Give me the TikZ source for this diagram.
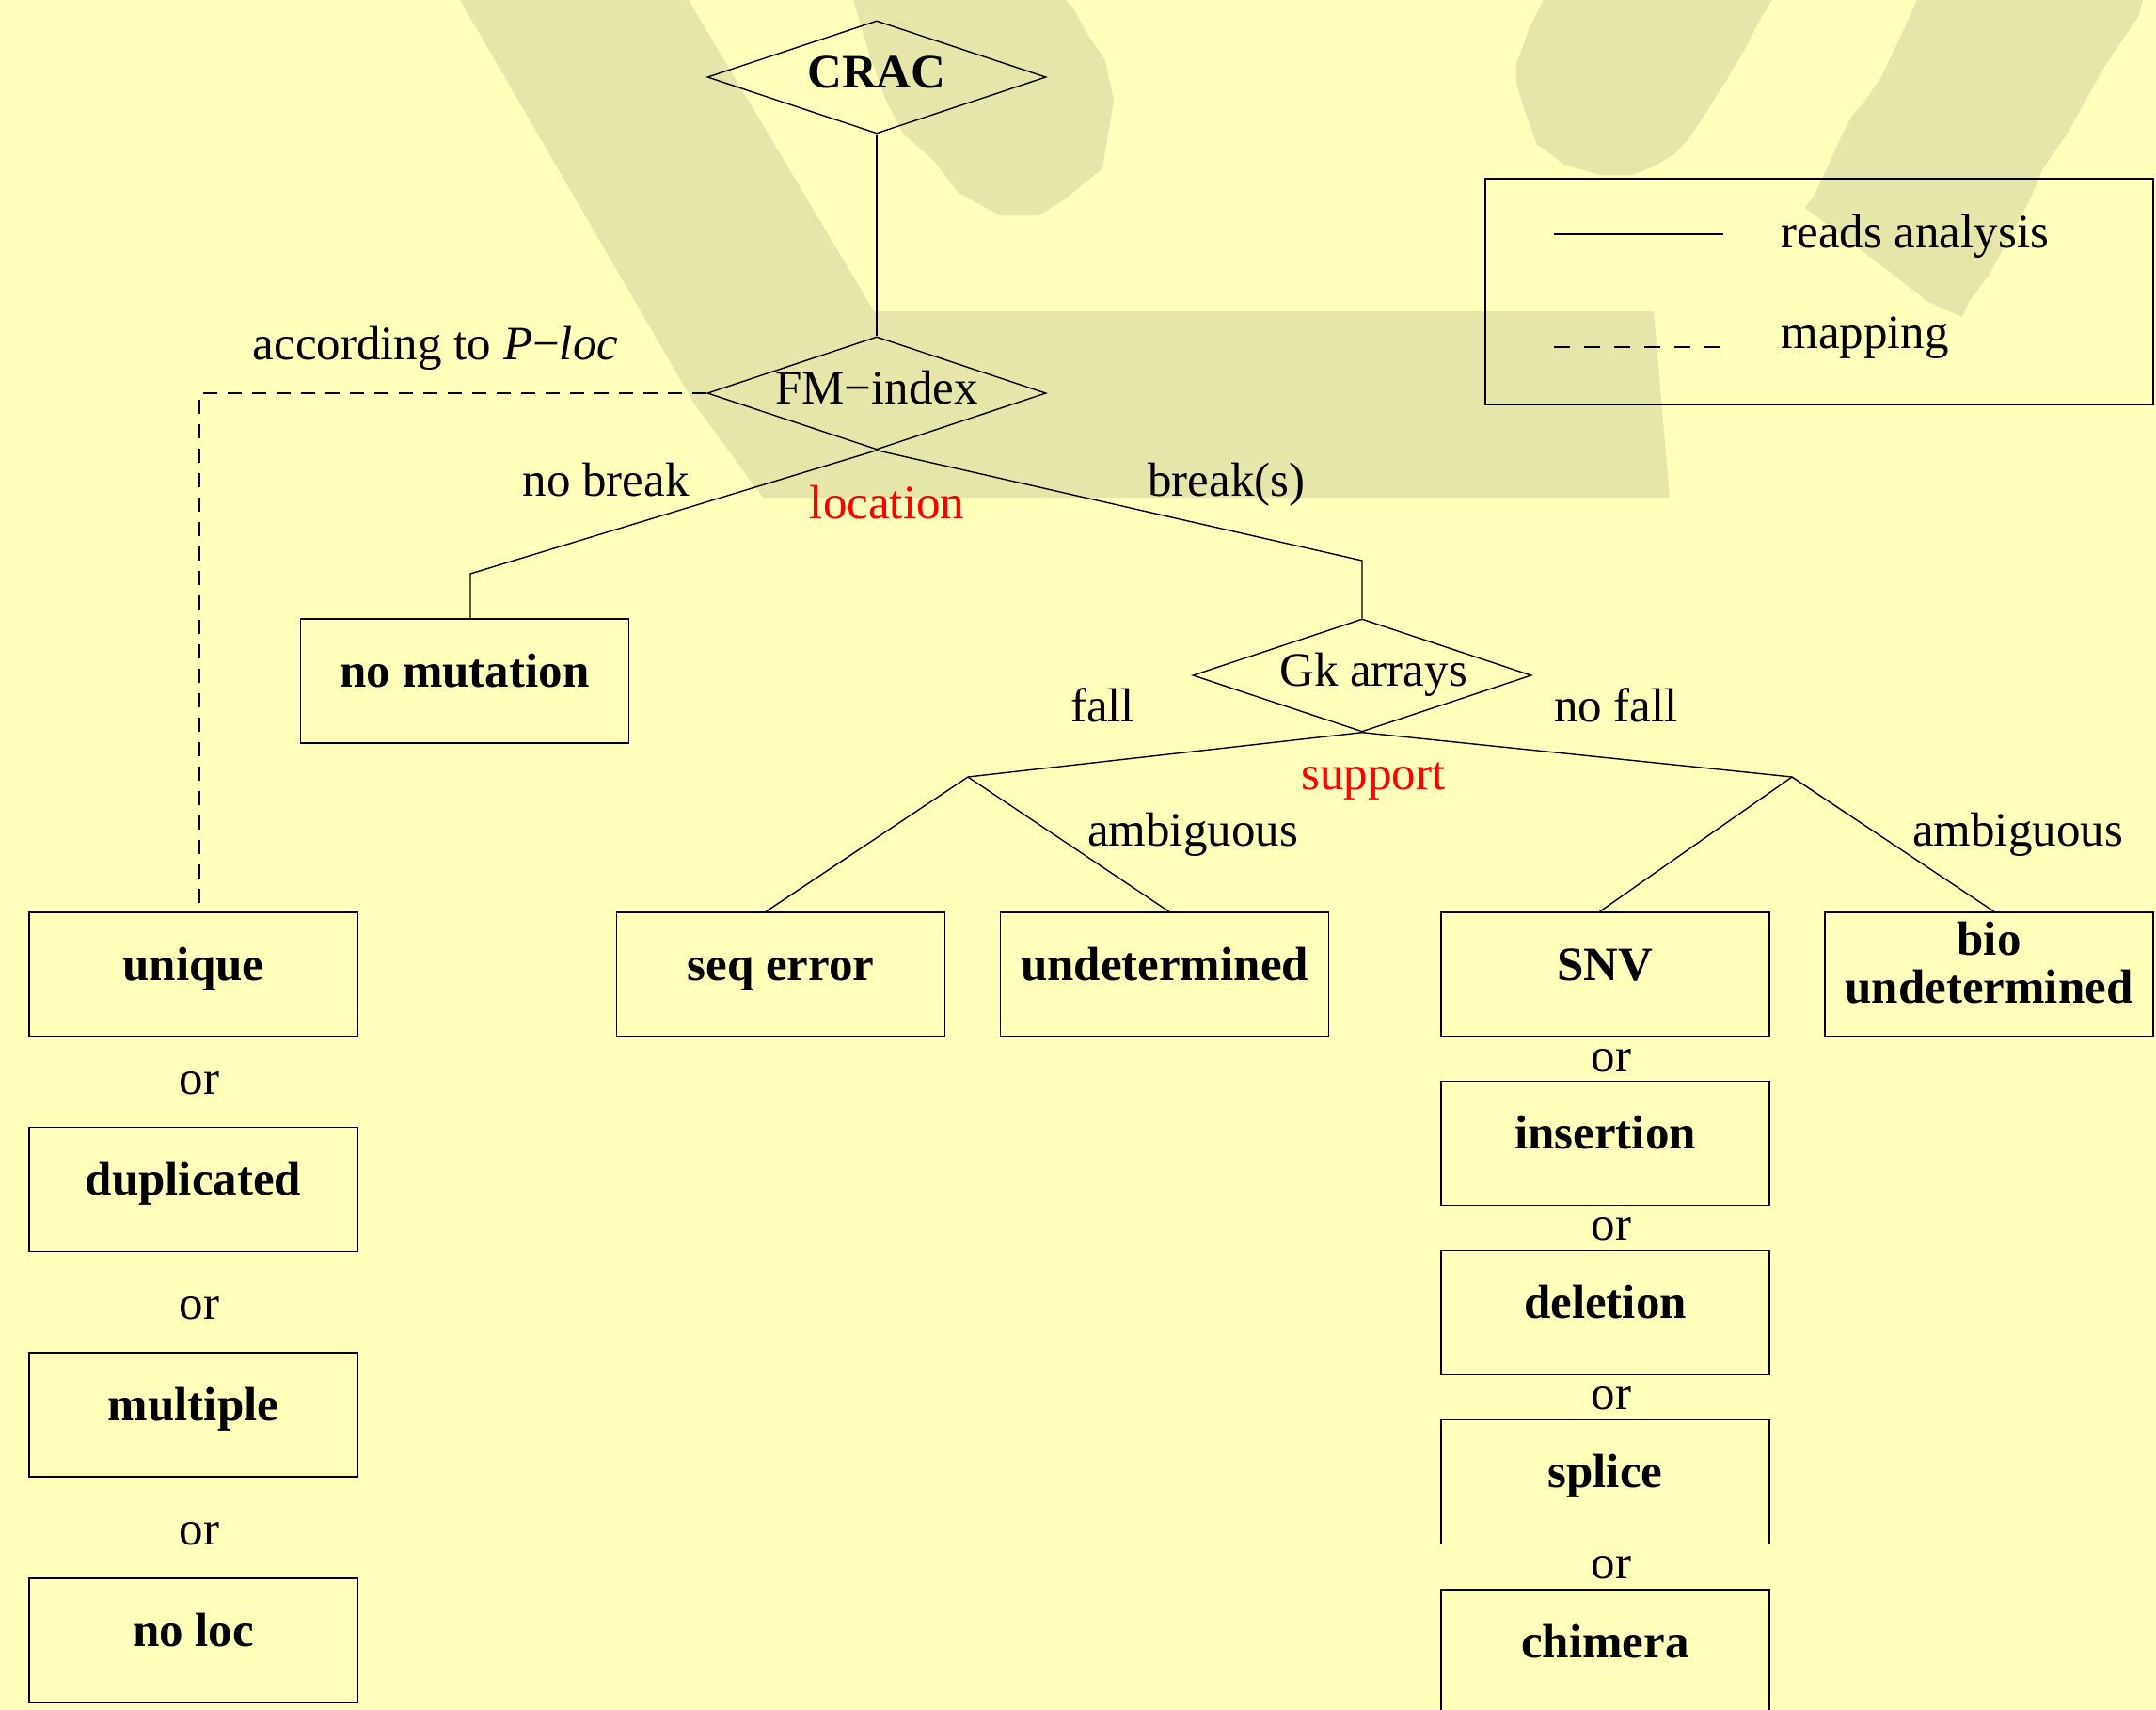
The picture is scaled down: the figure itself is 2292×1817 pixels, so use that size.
\documentclass[tikz,border=0pt]{standalone}
\usepackage{fontspec}
\setmainfont{Liberation Serif}
\usetikzlibrary{shapes.geometric}
\definecolor{bgyellow}{RGB}{255,255,187}
\definecolor{wmark}{RGB}{230,230,170}
\definecolor{lblred}{RGB}{255,0,0}
\begin{document}
\begin{tikzpicture}[x=0.5pt,y=-0.5pt,
  every node/.style={font=\fontsize{25.5}{24.5}\selectfont},
  conn/.style={line width=0.7pt},
  mapline/.style={line width=0.7pt, dash pattern=on 7.5pt off 5.5pt},
  legdash/.style={line width=0.9pt, dash pattern=on 8.5pt off 7.5pt},
  dia/.style={draw, line width=0.7pt, diamond, aspect=3, inner sep=0pt,
    minimum width=180pt, minimum height=60pt, text height=14pt, text depth=2.5pt},
  boxframe/.style={draw, line width=0.7pt, rectangle, inner sep=0pt,
    minimum width=174.5pt, minimum height=66pt,
    font=\fontsize{25.5}{24.5}\selectfont\bfseries},
  resbox/.style={boxframe, text height=12pt, text depth=6pt},
  lbl/.style={anchor=base, inner sep=0pt},
  redlbl/.style={anchor=base, inner sep=0pt, text=lblred},
]
\useasboundingbox (0,0) rectangle (2292,1817);
\fill[bgyellow] (0,0) rectangle (2292,1817);

% watermark shapes
\fill[wmark] (489,0) -- (732,0) -- (929,331) -- (1758,331) -- (1775,529) -- (811,529) -- (738,429) -- cycle;
\fill[wmark] (907,0) -- (1133,0) -- (1140,7) -- (1156,36) -- (1175,64) -- (1184,107) -- (1172,179) -- (1133,211) -- (1105,229) -- (1063,229) -- (1019,205) -- (993,171) -- (961,143) -- (942,107) -- (923,54) -- cycle;
\fill[wmark] (1641,0) -- (1884,0) -- (1871,21) -- (1854,54) -- (1833,89) -- (1808,129) -- (1793,150) -- (1780,164) -- (1758,177) -- (1735,186) -- (1702,186) -- (1662,175) -- (1649,164) -- (1634,154) -- (1621,118) -- (1612,89) -- (1612,68) -- (1626,29) -- cycle;
\fill[wmark] (2038,0) -- (2278,0) -- (2273,18) -- (2237,71) -- (2197,143) -- (2172,179) -- (2157,214) -- (2114,293) -- (2093,321) -- (2086,337) -- (2050,321) -- (2005,286) -- (1919,221) -- (1929,207) -- (1944,175) -- (1955,150) -- (1970,121) -- (1980,111) -- (2000,82) -- (2025,29) -- cycle;

% decision diamonds
\node[dia, font=\fontsize{25.5}{24.5}\selectfont\bfseries] (crac) at (932,82) {CRAC};
\node[dia] (fm) at (932,418) {FM−index};
\node[dia] (gk) at (1448,718) {\hspace*{12pt}Gk arrays};

% result boxes
\node[resbox] (nomut) at (494,724) {no mutation};
\node[resbox] (unique) at (205.5,1036) {unique};
\node[resbox] (dup) at (205.5,1264.5) {duplicated};
\node[resbox] (mult) at (205.5,1504) {multiple};
\node[resbox] (noloc) at (205.5,1744) {no loc};
\node[resbox] (seq) at (830,1036) {seq error};
\node[resbox] (undet) at (1238,1036) {undetermined};
\node[resbox] (snv) at (1706.5,1036) {SNV};
\node[resbox] (ins) at (1706.5,1215.5) {insertion};
\node[resbox] (del) at (1706.5,1395.5) {deletion};
\node[resbox] (spl) at (1706.5,1575.5) {splice};
\node[resbox] (chim) at (1706.5,1756) {chimera};
\node[boxframe, text height=30pt, text depth=0pt] (bio) at (2114.5,1036)
  {\setlength\tabcolsep{0pt}\begin{tabular}[b]{c}bio\\undetermined\end{tabular}};

% junction points
\coordinate (nbk) at (500,610);
\coordinate (bk) at (1448,596);
\coordinate (dl) at (212,418);
\coordinate (fk1) at (1029,826);
\coordinate (fk2) at (1905,826);

% connectors
\draw[conn] (crac.south) -- (fm.north);
\draw[conn] (fm.south) -- (nbk) -- (nbk |- nomut.north);
\draw[conn] (fm.south) -- (bk) -- (gk.north);
\draw[mapline] (fm.west) -- (dl) -- (dl |- unique.north);
\draw[conn] (gk.south) -- (fk1);
\draw[conn] (gk.south) -- (fk2);
\draw[conn] (fk1) -- ([xshift=-8pt]seq.north);
\draw[conn] (fk1) -- ([xshift=2.5pt]undet.north);
\draw[conn] (fk2) -- ([xshift=-3pt]snv.north);
\draw[conn] (fk2) -- ([xshift=2.75pt]bio.north);

% labels
\node[lbl] (tacc) at (463,382) {according to \textit{P}−\textit{loc}};
\node[lbl] (tnobreak) at (644,527) {no break};
\node[redlbl] (tloc) at (943,551) {location};
\node[lbl] (tbreak) at (1304,527) {break(s)};
\node[lbl] (tfall) at (1172,767) {fall};
\node[lbl] (tnofall) at (1718,767) {no fall};
\node[redlbl] (tsup) at (1460,839) {support};
\node[lbl] (tamb1) at (1268,899) {ambiguous};
\node[lbl] (tamb2) at (2145,899) {ambiguous};
\node[lbl] (or1) at (212,1163) {or};
\node[lbl] (or2) at (212,1402) {or};
\node[lbl] (or3) at (212,1642) {or};
\node[lbl] (or4) at (1713,1139) {or};
\node[lbl] (or5) at (1713,1318) {or};
\node[lbl] (or6) at (1713,1498) {or};
\node[lbl] (or7) at (1713,1678) {or};

% legend
\node[draw, line width=1pt, inner sep=0pt, minimum width=355pt, minimum height=120pt] (legend) at (1934,310) {};
\coordinate (ls1) at (1652,249);
\coordinate (ls2) at (1832,249);
\coordinate (ld1) at (1652,369);
\coordinate (ld2) at (1830,369);
\draw[line width=0.9pt] (ls1) -- (ls2);
\draw[legdash] (ld1) -- (ld2);
\node[lbl, anchor=base west] (tra) at (1893,263) {reads analysis};
\node[lbl, anchor=base west] (tmap) at (1893,370) {mapping};
\end{tikzpicture}
\end{document}
